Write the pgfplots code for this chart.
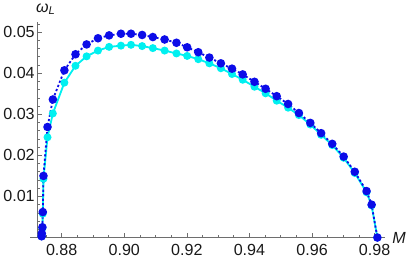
\documentclass[border=0pt]{standalone}
\usepackage{pgfplots}
\pgfplotsset{compat=1.18}
\usepackage{fontspec}
\setmainfont{Liberation Sans}
\definecolor{mblue}{RGB}{12,12,232}
\definecolor{mcyan}{RGB}{0,240,240}
\definecolor{axgray}{RGB}{110,110,110}
\begin{document}
\begin{tikzpicture}
\begin{axis}[
  scale only axis,
  width=343.7bp, height=213.4bp,
  xmin=0.87235, xmax=0.9832,
  ymin=0, ymax=0.05243,
  axis lines=left,
  axis line style={-, axgray, line width=0.7bp},
  clip=false,
  scaled ticks=false,
  tick align=inside,
  major tick length=4bp,
  minor tick length=2.5bp,
  every tick/.style={axgray, line width=0.6bp},
  xtick={0.88,0.90,0.92,0.94,0.96,0.98},
  xticklabels={0.88,0.90,0.92,0.94,0.96,0.98},
  minor xtick={0.875,0.885,0.89,0.895,0.905,0.91,0.915,0.925,0.93,0.935,0.945,0.95,0.955,0.965,0.97,0.975},
  ytick={0.01,0.02,0.03,0.04,0.05},
  yticklabels={0.01,0.02,0.03,0.04,0.05},
  minor ytick={0.002,0.004,0.006,0.008,0.012,0.014,0.016,0.018,0.022,0.024,0.026,0.028,0.032,0.034,0.036,0.038,0.042,0.044,0.046,0.048,0.052},
  /pgf/number format/assume math mode=true,
  ticklabel style={font=\fontsize{16}{19}\selectfont, text=black!90},
  yticklabel style={xshift=0.5bp},
  xticklabel style={yshift=-3bp},
  xlabel={\textit{M}},
  xlabel style={at={(axis description cs:1,0)}, anchor=west, xshift=4bp, yshift=0bp, font=\fontsize{16}{19}\selectfont, text=black!90},
  ylabel={\textit{ω}\textsubscript{\textit{L}}},
  ylabel style={rotate=-90, at={(axis description cs:0,1)}, anchor=base, xshift=8bp, yshift=10bp, font=\fontsize{16}{19}\selectfont, text=black!90},
]
\draw[axgray, line width=0.7bp] (axis cs:0.8700,0) -- (axis cs:0.87235,0);
\addplot[mcyan, line width=1.8bp, mark=*, mark size=3bp, mark options={solid, fill=mcyan, draw=mcyan}] coordinates {
(0.87360,0.0003) (0.87365,0.0009) (0.87385,0.0023) (0.87397,0.0058) (0.87419,0.0143)
(0.87548,0.0244) (0.87719,0.0302) (0.88087,0.0377) (0.88442,0.0418) (0.88797,0.0441)
(0.89161,0.0455) (0.89516,0.0464) (0.89894,0.0467) (0.90216,0.0469) (0.90571,0.0466)
(0.90913,0.0461) (0.91290,0.0455) (0.91668,0.0448) (0.92010,0.0442) (0.92365,0.0434)
(0.92719,0.0424) (0.93087,0.0412) (0.93442,0.0398) (0.93784,0.0384) (0.94161,0.0367)
(0.94516,0.0351) (0.94871,0.0333) (0.95235,0.0316) (0.95580,0.0298) (0.95945,0.0275)
(0.96290,0.0250) (0.96645,0.0225) (0.97010,0.0194) (0.97365,0.0157) (0.97742,0.0110)
(0.97903,0.0078) (0.98087,0.0000)
};
\addplot[mblue, line width=1.8bp, dash pattern=on 2.2bp off 2.2bp, mark=*, mark size=3.3bp, mark options={solid, fill=mblue, draw=mblue}] coordinates {
(0.87360,0.0003) (0.87365,0.0010) (0.87385,0.0025) (0.87397,0.0062) (0.87419,0.0150)
(0.87548,0.0269) (0.87719,0.0336) (0.88087,0.0407) (0.88442,0.0446) (0.88797,0.0470)
(0.89161,0.0485) (0.89516,0.0492) (0.89894,0.0496) (0.90216,0.0496) (0.90571,0.0493)
(0.90913,0.0488) (0.91290,0.0482) (0.91668,0.0474) (0.92010,0.0463) (0.92365,0.0451)
(0.92719,0.0438) (0.93087,0.0424) (0.93442,0.0411) (0.93784,0.0397) (0.94161,0.0379)
(0.94516,0.0362) (0.94871,0.0344) (0.95235,0.0325) (0.95580,0.0303) (0.95945,0.0279)
(0.96290,0.0254) (0.96645,0.0228) (0.97010,0.0197) (0.97365,0.0160) (0.97742,0.0113)
(0.97903,0.0080) (0.98087,0.0000)
};
\end{axis}
\end{tikzpicture}
\end{document}
